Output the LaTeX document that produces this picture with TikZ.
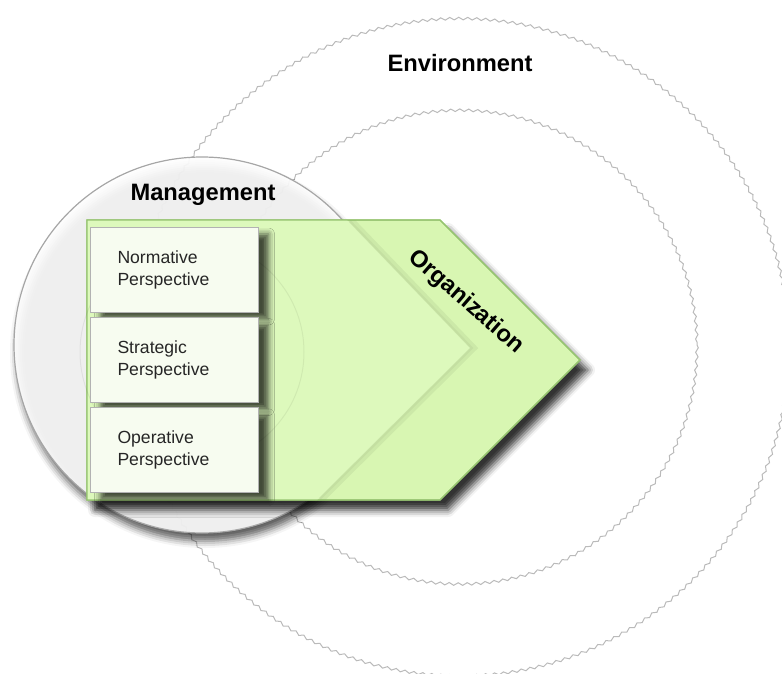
\documentclass[tikz,border=0pt]{standalone}
\usepackage{fontspec}
\setmainfont{Liberation Sans}
\usetikzlibrary{decorations.pathmorphing,shadows.blur,positioning}

\definecolor{orgfill}{RGB}{216,246,178}
\definecolor{orglight}{RGB}{221,249,188}
\definecolor{orgedge}{RGB}{150,196,112}
\definecolor{boxfill}{RGB}{247,252,240}

\begin{document}
\begin{tikzpicture}[x=1pt, y=-1pt,
    ring/.style={draw=black!27, line width=1pt, decorate,
        decoration={snake, amplitude=1.3pt, segment length=9pt}},
    title/.style={font=\fontsize{23.7}{28}\selectfont\bfseries},
    perspective/.style={rectangle, draw=black!30, line width=0.9pt, fill=boxfill,
        minimum width=168pt, minimum height=85pt, text width=114pt, align=left,
        inner sep=0pt, font=\fontsize{17.6}{22}\selectfont, text=black!85,
        blur shadow={shadow xshift=10pt, shadow yshift=-7pt, shadow opacity=70, shadow blur radius=6pt}}]
    \useasboundingbox (0,0) rectangle (782,674);
    \def\cx{460}
    \def\cy{345}

    % environment rings
    \draw[ring] (\cx,\cy) circle (329);
    \draw[ring] (\cx,\cy) circle (237);

    % management circle
    \node(mgmt) [circle, draw=black!35, line width=1.2pt, fill=white, fill opacity=0.9,
        minimum size=376pt, inner sep=0pt,
        blur shadow={shadow xshift=3pt, shadow yshift=-8pt, shadow opacity=70, shadow blur radius=7pt}]
        at (202,345) {};

    % organization arrow
    \draw[orgedge, line width=1.3pt, fill=orgfill,
        blur shadow={shadow xshift=8pt, shadow yshift=-10pt, shadow opacity=80, shadow blur radius=7pt}]
        (87,220) -- (440,220) -- (580,360) -- (440,500) -- (87,500) -- cycle;
    \begin{scope}
        \clip (87,220) -- (440,220) -- (580,360) -- (440,500) -- (87,500) -- cycle;
        \fill[orglight] (87,220) -- (347,220) -- (470,348) -- (317,500) -- (87,500) -- cycle;
        \draw[black, opacity=0.05, line width=6pt] (351,220) -- (474,348) -- (321,500);
        \draw[black, opacity=0.04, line width=2pt] (349,220) -- (472,348) -- (319,500);
    \end{scope}
    \draw[orgedge, line width=1.3pt]
        (87,220) -- (440,220) -- (580,360) -- (440,500) -- (87,500) -- cycle;
    \draw[black, opacity=0.06, line width=1pt] (192,352) circle (112);

    % perspectives
    \node(norm) [perspective] at (174.5,269.5) {Normative\\Perspective};
    \node(strat) [perspective, below=4.5pt of norm] {Strategic\\Perspective};
    \node(oper) [perspective, below=4.5pt of strat] {Operative\\Perspective};

    % labels
    \node(envlabel) [title] at (460,63) {Environment};
    \node(mgmtlabel) [title] at (203,195) {Management};
    \node(orglabel) [title, rotate=-41] at (466,302) {Organization};
\end{tikzpicture}
\end{document}
